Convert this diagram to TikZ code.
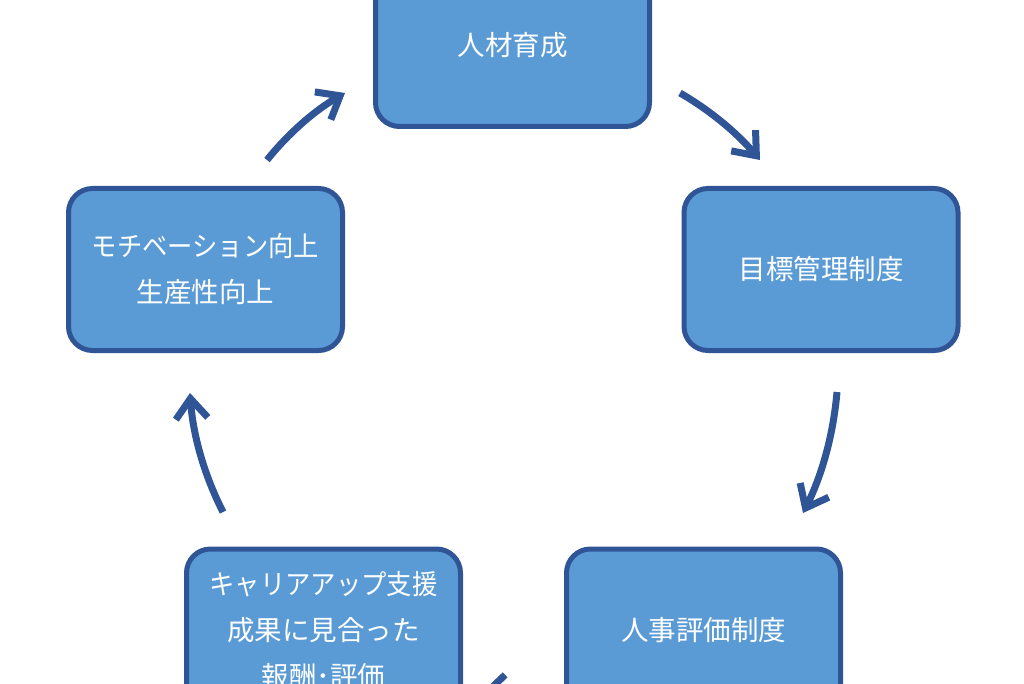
\documentclass[tikz,border=0pt]{standalone}
\usepackage{graphicx}
\usepackage{fontspec}
\setmainfont{Noto Sans CJK JP}
\usetikzlibrary{arrows.meta}
\definecolor{boxfill}{RGB}{91,155,213}
\definecolor{boxline}{RGB}{47,85,151}
\newcommand{\narrowline}[1]{\scalebox{0.92}[1]{#1}}
\tikzset{
  cyclebox/.style={draw=boxline, fill=boxfill, line width=5pt, rounded corners=24pt,
    minimum width=274pt, minimum height=162pt, inner sep=0pt, text=white,
    align=center, font=\fontsize{27.5}{46}\selectfont},
  cyclearrow/.style={draw=boxline, line width=7pt,
    -{Straight Barb[length=20pt, width=32pt]}}
}
\begin{document}
\begin{tikzpicture}[x=1pt, y=-1pt]
\useasboundingbox (0,0) rectangle (1024,684);
\clip (0,0) rectangle (1024,684);
\node[cyclebox] (top) at (512.5,45.5) {人材育成};
\node[cyclebox] (right) at (821,269.5) {目標管理制度};
\node[cyclebox] (bright) at (703.5,630) {人事評価制度};
\node[cyclebox] (bleft) at (323.5,630) {\narrowline{キャリアアップ支援}\\成果に見合った\\報酬･評価};
\node[cyclebox] (left) at (205.5,269.5) {\narrowline{モチベーション向上}\\生産性向上};
\coordinate (a1s) at (267,160); \coordinate (a1c) at (289,132.7); \coordinate (a1d) at (315,110.3); \coordinate (a1e) at (345,93);
\coordinate (a2s) at (680,93);  \coordinate (a2c) at (710,110.3); \coordinate (a2d) at (736.7,132.7); \coordinate (a2e) at (760,160);
\coordinate (a3s) at (837,392); \coordinate (a3c) at (833.3,434.7); \coordinate (a3d) at (822,475); \coordinate (a3e) at (803,513);
\coordinate (a4s) at (550,698); \coordinate (a4c) at (527.3,692.7); \coordinate (a4d) at (504.3,691); \coordinate (a4e) at (481,693);
\coordinate (a5s) at (223,512); \coordinate (a5c) at (204,474.7); \coordinate (a5d) at (193,435); \coordinate (a5e) at (190,393);
\draw[cyclearrow] (a1s) .. controls (a1c) and (a1d) .. (a1e);
\draw[cyclearrow] (a2s) .. controls (a2c) and (a2d) .. (a2e);
\draw[cyclearrow] (a3s) .. controls (a3c) and (a3d) .. (a3e);
\draw[cyclearrow] (a4s) .. controls (a4c) and (a4d) .. (a4e);
\draw[cyclearrow] (a5s) .. controls (a5c) and (a5d) .. (a5e);
\end{tikzpicture}
\end{document}
